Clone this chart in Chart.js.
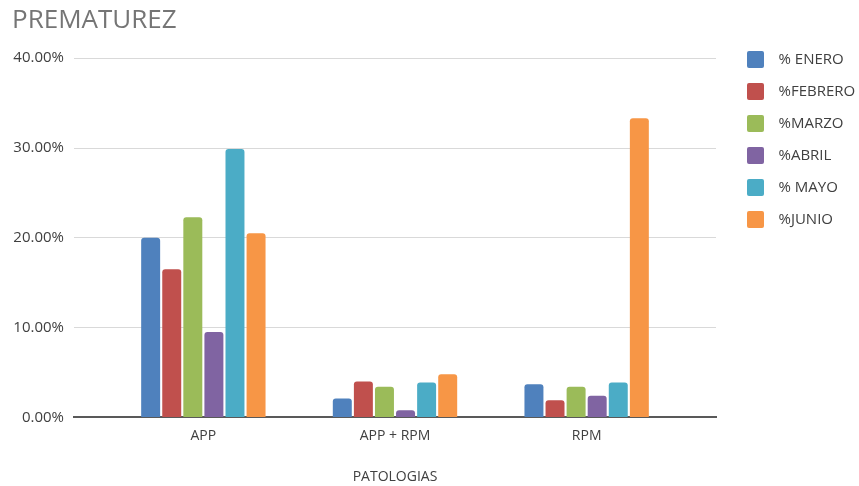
<!DOCTYPE html>
<html>
<head>
<meta charset="utf-8">
<script src="https://cdn.jsdelivr.net/npm/chart.js@4.4.1/dist/chart.umd.min.js"></script>
<style>
  html, body { margin: 0; padding: 0; background: #ffffff; }
  #wrap { position: relative; width: 859px; height: 486px; }
</style>
</head>
<body>
<div id="wrap"><canvas id="chart"></canvas></div>
<script>
// Categories (x axis) and monthly percentages per pathology
const categories = ['APP', 'APP + RPM', 'RPM'];
const seriesNames = ['% ENERO', '%FEBRERO', '%MARZO', '%ABRIL', '% MAYO', '%JUNIO'];
const enero   = [20.0, 2.1, 3.7];
const febrero = [16.5, 4.0, 1.9];
const marzo   = [22.3, 3.4, 3.4];
const abril   = [9.5, 0.8, 2.4];
const mayo    = [29.9, 3.9, 3.9];
const junio   = [20.5, 4.8, 33.3];
const yTicks  = [0, 10, 20, 30, 40];

const seriesValues = [enero, febrero, marzo, abril, mayo, junio];
const colors = ['#4F81BD', '#C0504D', '#9BBB59', '#8064A2', '#4BACC6', '#F79646'];

// Legend swatch: a 17px square on the left of a slightly wider transparent
// canvas, so the label text sits a little further from the swatch.
const SWATCH_W = 24;
function makeSwatch(color) {
  const c = document.createElement('canvas');
  c.width = SWATCH_W;
  c.height = 17;
  const g = c.getContext('2d');
  g.fillStyle = color;
  g.beginPath();
  g.roundRect(0, 0, 17, 17, 2);
  g.fill();
  return c;
}
const swatches = colors.map(makeSwatch);

const datasets = seriesNames.map((name, i) => ({
  label: name,
  xAxisID: 'x',
  yAxisID: 'y',
  data: seriesValues[i].map((v, j) => ({ x: j, y: v })),
  backgroundColor: colors[i],
  borderColor: colors[i],
  borderWidth: 0,
  borderRadius: { topLeft: 3, topRight: 3, bottomLeft: 0, bottomRight: 0 },
  borderSkipped: false,
  categoryPercentage: 0.66,
  barPercentage: 0.9
}));

const FONT = '"Open Sans", "Noto Sans", sans-serif';

new Chart(document.getElementById('chart'), {
  type: 'bar',
  data: { datasets },
  options: {
    responsive: true,
    maintainAspectRatio: false,
    animation: false,
    layout: { padding: { left: 12, right: 1, top: 0, bottom: 1 } },
    plugins: {
      title: {
        display: true,
        text: 'PREMATUREZ',
        align: 'start',
        color: '#757575',
        font: { family: FONT, size: 26, weight: 'normal' },
        padding: { top: 5, bottom: 22 }
      },
      legend: {
        position: 'right',
        align: 'start',
        maxWidth: 128,
        title: {
          display: true,
          text: ' ',
          font: { family: FONT, size: 10 },
          padding: { top: 0, bottom: 23 }
        },
        labels: {
          usePointStyle: true,
          pointStyleWidth: SWATCH_W,
          padding: 17,
          color: '#404040',
          font: { family: FONT, size: 15 },
          generateLabels: (chart) => {
            const items = Chart.defaults.plugins.legend.labels.generateLabels(chart);
            items.forEach((it) => { it.pointStyle = swatches[it.datasetIndex]; });
            return items;
          }
        }
      },
      tooltip: { enabled: false }
    },
    scales: {
      x: {
        type: 'linear',
        min: -0.675,
        max: 2.675,
        offset: false,
        afterBuildTicks: (scale) => {
          scale.ticks = categories.map((_, i) => ({ value: i }));
        },
        ticks: {
          color: '#404040',
          font: { family: FONT, size: 14 },
          padding: 2,
          autoSkip: false,
          maxRotation: 0,
          callback: (v) => categories[v] ?? ''
        },
        grid: { display: false },
        border: { display: true, color: '#595959', width: 2 },
        title: {
          display: true,
          text: 'PATOLOGIAS',
          color: '#404040',
          font: { family: FONT, size: 14 },
          padding: { top: 22, bottom: 0 }
        }
      },
      y: {
        min: 0,
        max: 40,
        afterBuildTicks: (scale) => {
          scale.ticks = yTicks.map(v => ({ value: v }));
        },
        afterFit: (scale) => { scale.width = 62; },
        ticks: {
          color: '#404040',
          font: { family: FONT, size: 15 },
          padding: 10,
          callback: (v) => v.toFixed(2) + '%'
        },
        grid: { color: '#d9d9d9', lineWidth: 1, drawTicks: false },
        border: { display: false }
      },
      // empty spacer between the plot and the legend
      gap: {
        type: 'linear',
        position: 'right',
        display: true,
        ticks: { display: false },
        grid: { display: false },
        border: { display: false },
        afterFit: (scale) => { scale.width = 14; }
      }
    }
  }
});
</script>
</body>
</html>
